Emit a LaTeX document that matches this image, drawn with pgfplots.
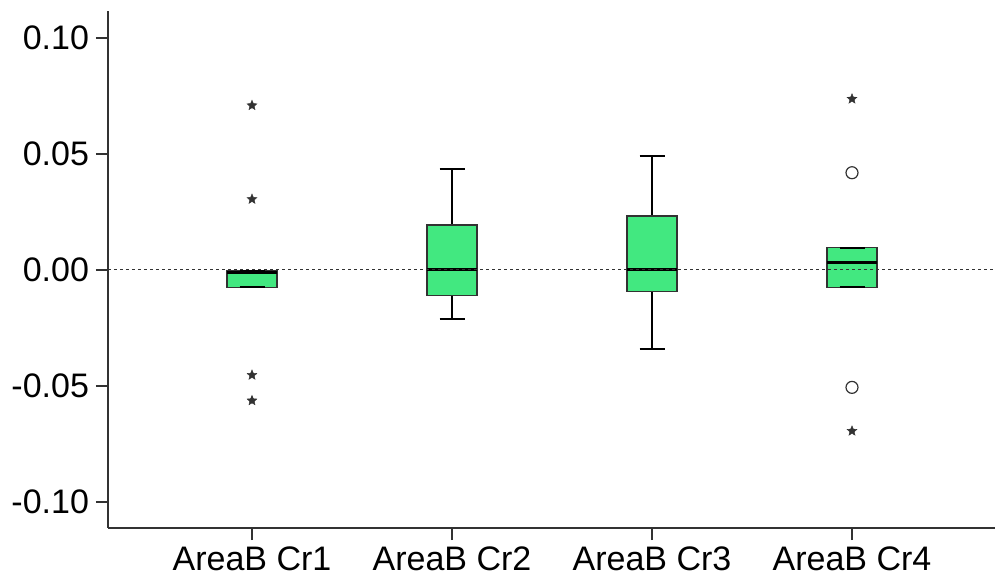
\documentclass[border=0pt]{standalone}
\usepackage{pgfplots}
\pgfplotsset{compat=1.18}
\usepackage{fontspec}
\setmainfont{Liberation Sans}
\definecolor{boxgreen}{RGB}{66,232,128}
\definecolor{axgray}{RGB}{50,50,50}
\pgfdeclareplotmark{fstar}{%
  \pgfpathmoveto{\pgfpointpolar{90}{\pgfplotmarksize}}%
  \pgfpathlineto{\pgfpointpolar{126}{0.45\pgfplotmarksize}}%
  \pgfpathlineto{\pgfpointpolar{162}{\pgfplotmarksize}}%
  \pgfpathlineto{\pgfpointpolar{198}{0.45\pgfplotmarksize}}%
  \pgfpathlineto{\pgfpointpolar{234}{\pgfplotmarksize}}%
  \pgfpathlineto{\pgfpointpolar{270}{0.45\pgfplotmarksize}}%
  \pgfpathlineto{\pgfpointpolar{306}{\pgfplotmarksize}}%
  \pgfpathlineto{\pgfpointpolar{342}{0.45\pgfplotmarksize}}%
  \pgfpathlineto{\pgfpointpolar{18}{\pgfplotmarksize}}%
  \pgfpathlineto{\pgfpointpolar{54}{0.45\pgfplotmarksize}}%
  \pgfpathclose\pgfusepathqfillstroke}
\pgfplotsset{
  whisk/.style={black, line width=1pt, forget plot},
  boxst/.style={draw=axgray, fill=boxgreen, line width=0.7pt, forget plot},
  medst/.style={black, line width=1.5pt, forget plot},
}
\begin{document}
\begin{tikzpicture}
\path[use as bounding box] (-54pt,-24.5pt) rectangle (446pt,264pt);
\begin{axis}[
  at={(0,0)}, anchor=south west,
  scale only axis, width=443.5pt, height=258.5pt,
  xmin=0.28, xmax=4.715, ymin=-0.1112, ymax=0.1116,
  axis lines=left, axis line style={-, axgray, line width=0.8pt},
  tick align=outside, major tick length=6pt,
  tick style={axgray, line width=0.7pt},
  xtick={1,2,3,4}, xticklabels={AreaB Cr1,AreaB Cr2,AreaB Cr3,AreaB Cr4},
  ytick={-0.1,-0.05,0,0.05,0.1}, yticklabels={-0.10,-0.05,0.00,0.05,0.10},
  ticklabel style={font=\fontsize{17}{20}\selectfont, black},
  clip=false,
]
% ---- AreaB Cr1: lw=-0.0075 q1=-0.0075 med=-0.0012 q3=-0.0003 uw=-0.0003
\addplot[boxst] coordinates {(0.875,-0.0075) (1.125,-0.0075) (1.125,-0.0003) (0.875,-0.0003)} -- cycle;
\addplot[whisk] coordinates {(0.9375,-0.0075) (1.0625,-0.0075)};
\addplot[whisk] coordinates {(0.9375,-0.0003) (1.0625,-0.0003)};
\addplot[medst] coordinates {(0.875,-0.0012) (1.125,-0.0012)};
% ---- AreaB Cr2: lw=-0.0211 q1=-0.0109 med=0.0 q3=0.0193 uw=0.0437
\addplot[whisk] coordinates {(2,-0.0211) (2,-0.0109)};
\addplot[whisk] coordinates {(2,0.0193) (2,0.0437)};
\addplot[whisk] coordinates {(1.9375,-0.0211) (2.0625,-0.0211)};
\addplot[whisk] coordinates {(1.9375,0.0437) (2.0625,0.0437)};
\addplot[boxst] coordinates {(1.875,-0.0109) (2.125,-0.0109) (2.125,0.0193) (1.875,0.0193)} -- cycle;
\addplot[medst] coordinates {(1.875,0.0) (2.125,0.0)};
% ---- AreaB Cr3: lw=-0.0342 q1=-0.0093 med=0.0004 q3=0.0233 uw=0.0491
\addplot[whisk] coordinates {(3,-0.0342) (3,-0.0093)};
\addplot[whisk] coordinates {(3,0.0233) (3,0.0491)};
\addplot[whisk] coordinates {(2.9375,-0.0342) (3.0625,-0.0342)};
\addplot[whisk] coordinates {(2.9375,0.0491) (3.0625,0.0491)};
\addplot[boxst] coordinates {(2.875,-0.0093) (3.125,-0.0093) (3.125,0.0233) (2.875,0.0233)} -- cycle;
\addplot[medst] coordinates {(2.875,0.0004) (3.125,0.0004)};
% ---- AreaB Cr4: lw=-0.0075 q1=-0.0075 med=0.0033 q3=0.0096 uw=0.0096
\addplot[boxst] coordinates {(3.875,-0.0075) (4.125,-0.0075) (4.125,0.0096) (3.875,0.0096)} -- cycle;
\addplot[whisk] coordinates {(3.9375,-0.0075) (4.0625,-0.0075)};
\addplot[whisk] coordinates {(3.9375,0.0096) (4.0625,0.0096)};
\addplot[medst] coordinates {(3.875,0.0033) (4.125,0.0033)};
% zero reference line
\addplot[axgray, line width=0.5pt, dash pattern=on 1.5pt off 1.5pt] coordinates {(0.28,0) (4.715,0)};
% extreme outliers (stars)
\addplot[only marks, mark=fstar, mark size=2.6pt, mark options={fill=axgray, draw=axgray, line width=0.2pt}] coordinates {
  (1,0.0709) (1,0.0305) (1,-0.0453) (1,-0.0563)
  (4,0.0737) (4,-0.0694)};
% outliers (circles)
\addplot[only marks, mark=o, mark size=3pt, mark options={draw=axgray, line width=0.6pt, fill=white}] coordinates {
  (4,0.0419) (4,-0.0506)};
\end{axis}
\end{tikzpicture}
\end{document}
